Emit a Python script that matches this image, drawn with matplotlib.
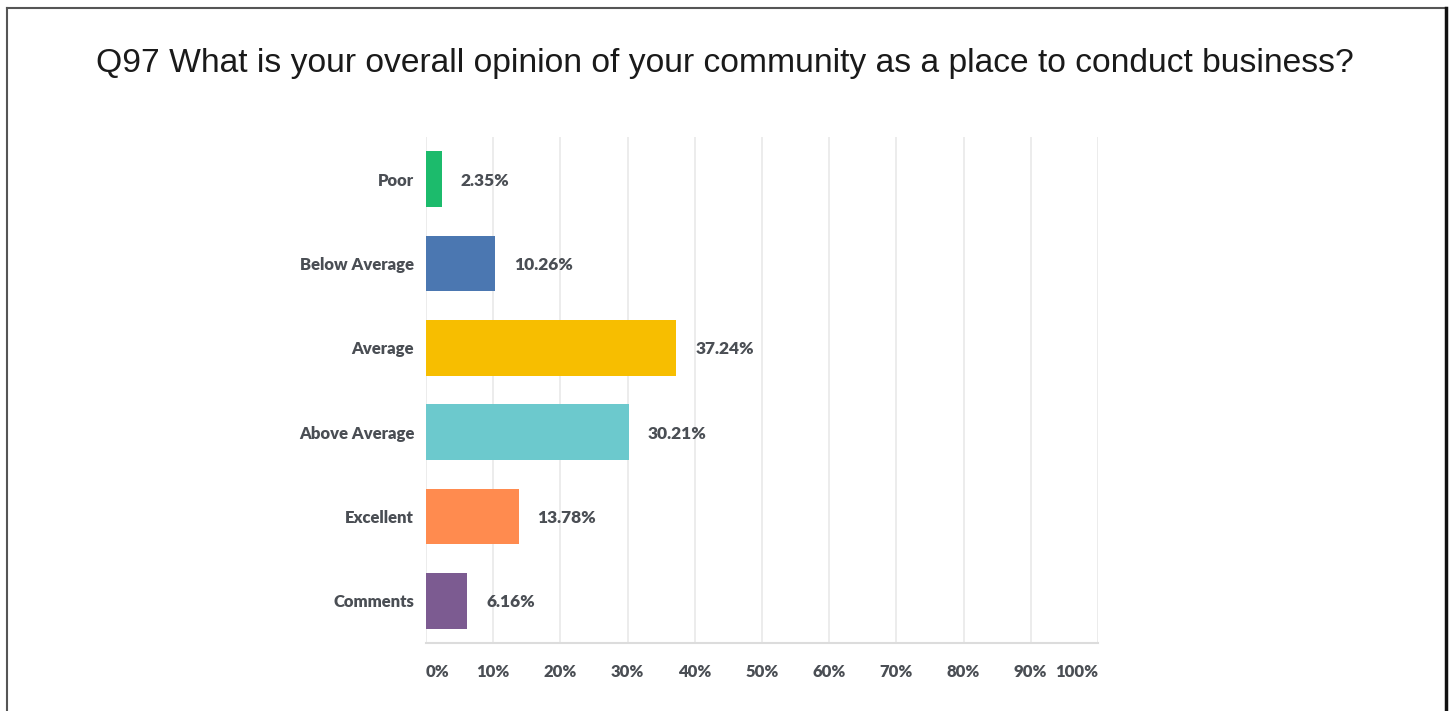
import matplotlib.pyplot as plt
from matplotlib.lines import Line2D
import numpy as np

categories = ["Poor", "Below Average", "Average", "Above Average", "Excellent", "Comments"]
values = [2.35, 10.26, 37.24, 30.21, 13.78, 6.16]
colors = ["#1cbb6c", "#4b77b1", "#f7be00", "#6cc9cd", "#ff8b4f", "#7c5b91"]
ticks = list(range(0, 101, 10))
tick_labels = [f"{t}%" for t in ticks]
title = "Q97 What is your overall opinion of your community as a place to conduct business?"

label_font = "Lato"
text_gray = "#4a4e54"

fig = plt.figure(figsize=(14.5, 7.11), dpi=100)
ax = fig.add_axes([0.2938, 0.0956, 0.4634, 0.7117])

y = np.arange(len(categories))
ax.barh(y, values, height=0.66, color=colors, zorder=3)

for yi, v in zip(y, values):
    ax.annotate(f"{v:.2f}%", (v, yi), xytext=(13.7, 0), textcoords="offset points",
                va="center_baseline", ha="left", fontsize=12.5, fontweight="heavy",
                color=text_gray, family=label_font)

ax.set_xlim(0, 100)
ax.set_ylim(len(categories) - 0.5, -0.5)
ax.set_yticks(y)
ax.set_yticklabels(categories, fontsize=12, fontweight="heavy", color=text_gray,
                   family=label_font, va="center_baseline")
ax.set_xticks(ticks)
ax.set_xticklabels(tick_labels, fontsize=12, fontweight="heavy", color=text_gray,
                   family=label_font)
ax.tick_params(axis="both", length=0)
ax.tick_params(axis="y", pad=8.5)
ax.tick_params(axis="x", pad=15)
# first and last tick labels hug the plot edges
xt = ax.get_xticklabels()
xt[0].set_ha("left")
xt[-1].set_ha("right")

ax.grid(axis="x", color="#e9e9e9", linewidth=1.2, zorder=0)
for side in ["top", "right", "left"]:
    ax.spines[side].set_visible(False)
ax.spines["bottom"].set_color("#dcdcdc")
ax.spines["bottom"].set_linewidth(1.5)

fig.text(0.5, 0.91, title, ha="center", va="center", fontsize=24.2,
         family="Liberation Sans", color="#1a1a1a")

# outer frame
fig.add_artist(Line2D([0.0048, 0.9975], [0.9887, 0.9887], color="#555555", lw=1.5))
fig.add_artist(Line2D([0.0048, 0.0048], [0.9887, 0.0], color="#555555", lw=1.5))
fig.add_artist(Line2D([0.9975, 0.9975], [0.9887, 0.0], color="#111111", lw=2.5))

fig.savefig("out.png", dpi=100, facecolor="white")
